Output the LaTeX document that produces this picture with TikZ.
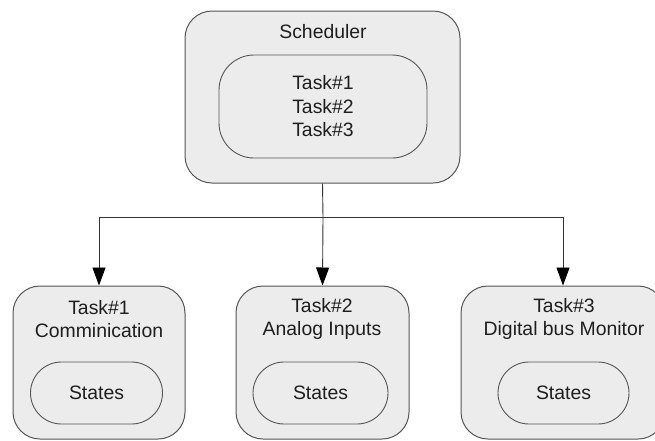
\documentclass[tikz,border=0pt]{standalone}
\usepackage{fontspec}
\setmainfont{Liberation Sans}
\usetikzlibrary{arrows.meta}
\definecolor{boxfill}{HTML}{ECECEC}
\definecolor{boxline}{HTML}{555555}
\definecolor{txt}{HTML}{1E1E1E}
\begin{document}
\begin{tikzpicture}[x=1pt,y=-1pt,
  outerbox/.style={draw=boxline,fill=boxfill,line width=1pt,rounded corners=27pt,inner sep=0pt},
  innerbox/.style={draw=boxline,fill=boxfill,line width=0.9pt,inner sep=0pt},
  lbl/.style={text=txt,align=center,font=\fontsize{19.4}{23.5}\selectfont,inner sep=0pt},
  conn/.style={draw=black!80,line width=0.9pt},
  arr/.style={conn,-{Triangle[length=18pt,width=13pt,color=black]}}]
\useasboundingbox (0,0) rectangle (655,440);
\clip (0,0) rectangle (655,440);
% top
\node[outerbox,minimum width=275pt,minimum height=172pt] (top) at (322.5,97) {};
\node[innerbox,rounded corners=35pt,minimum width=208pt,minimum height=103pt] (inner) at (323,106.5) {};
\node[lbl] (sched) at (323,32) {Scheduler};
\node[lbl] (tasks) at (323,106.5) {Task\#1\\Task\#2\\Task\#3};
% bottom boxes
\node[outerbox,minimum width=172pt,minimum height=153pt] (b1) at (99,362.5) {};
\node[outerbox,minimum width=173pt,minimum height=153pt] (b2) at (322.5,362.5) {};
\node[outerbox,minimum width=204pt,minimum height=153pt] (b3) at (563,362.5) {};
\node[innerbox,rounded corners=31pt,minimum width=132pt,minimum height=62pt] (s1) at (96.5,393) {};
\node[innerbox,rounded corners=31pt,minimum width=135pt,minimum height=62pt] (s2) at (320.5,393) {};
\node[innerbox,rounded corners=31pt,minimum width=131pt,minimum height=62pt] (s3) at (563.5,393) {};
\node[lbl] (t1) at (99,319) {Task\#1\\Comminication};
\node[lbl] (t2) at (322,319) {Task\#2\\Analog Inputs};
\node[lbl] (t3) at (564,319) {Task\#3\\Digital bus Monitor};
\node[lbl] (st1) at (96.5,393) {States};
\node[lbl] (st2) at (320.5,393) {States};
\node[lbl] (st3) at (563.5,393) {States};
% connectors
\coordinate (j) at (323,217);
\draw[conn] (top.south) -- (j);
\draw[arr] (j) -| (b1.north);
\draw[arr] (j) -- (b2.north);
\draw[arr] (j) -| (b3.north);
\end{tikzpicture}
\end{document}
